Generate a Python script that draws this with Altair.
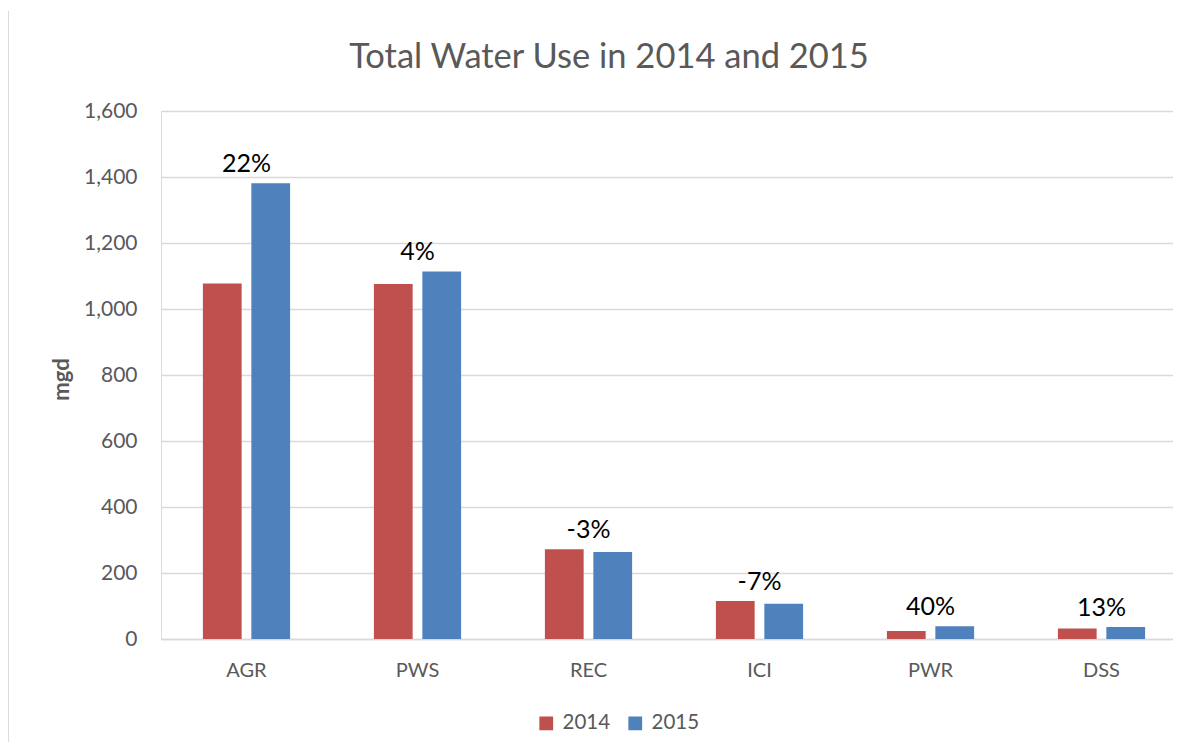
import altair as alt
import pandas as pd

categories = ["AGR", "PWS", "REC", "ICI", "PWR", "DSS"]
use_2014 = [1077, 1076, 272, 115, 24, 32]
use_2015 = [1381, 1114, 264, 107, 39, 36]
change_labels = ["22%", "4%", "-3%", "-7%", "40%", "13%"]
years = ["2014", "2015"]
colors = ["#C0504D", "#4F81BD"]
y_ticks = [0, 200, 400, 600, 800, 1000, 1200, 1400, 1600]

rows = []
for c, a, b in zip(categories, use_2014, use_2015):
    rows.append({"category": c, "year": "2014", "mgd": a})
    rows.append({"category": c, "year": "2015", "mgd": b})
bars_df = pd.DataFrame(rows)
labels_df = pd.DataFrame({
    "category": categories,
    "label": change_labels,
    "top": [max(a, b) for a, b in zip(use_2014, use_2015)],
})

FONT = "Lato"
GRAY = "#595959"
GRID = "#d9d9d9"

x_scale = alt.Scale(domain=categories, range=[0, 1026], paddingInner=0.49, paddingOuter=0.245)
y_scale = alt.Scale(domain=[0, 1600])

x_axis = alt.Axis(title=None, labelAngle=0, ticks=False, domain=True, domainColor=GRID,
                  domainWidth=1.5, labelFont=FONT, labelFontSize=20, labelColor=GRAY,
                  labelPadding=31, labelBaseline="middle", grid=False)
y_axis = alt.Axis(values=y_ticks, format=",d", labelFont=FONT, labelFontSize=21, labelColor=GRAY,
                  labelPadding=24, ticks=False, domain=False, grid=True, gridColor=GRID,
                  gridWidth=1.5, title="mgd", titleFont=FONT, titleFontSize=22,
                  titleFontWeight="bold", titleColor=GRAY, titleAngle=270, titleX=-100,
                  titleY=268, titleAlign="center", titleBaseline="middle")

bars = alt.Chart(bars_df).mark_bar().encode(
    x=alt.X("category:N", sort=categories, scale=x_scale, axis=x_axis),
    xOffset=alt.XOffset("year:N", scale=alt.Scale(domain=years, paddingInner=0.2, paddingOuter=0)),
    y=alt.Y("mgd:Q", scale=y_scale, axis=y_axis),
    color=alt.Color("year:N", scale=alt.Scale(domain=years, range=colors),
                    legend=alt.Legend(orient="none", legendX=375, legendY=602,
                                      direction="horizontal", title=None, symbolType="square",
                                      symbolSize=190, symbolStrokeWidth=0, labelFont=FONT,
                                      labelFontSize=20.5, labelColor=GRAY, columnPadding=14,
                                      labelOffset=6)),
)

texts = alt.Chart(labels_df).mark_text(font=FONT, fontSize=25, color="black",
                                       baseline="alphabetic", dy=-11).encode(
    x=alt.X("category:N", sort=categories, scale=x_scale),
    y=alt.Y("top:Q", scale=y_scale),
    text="label:N",
)

border = alt.Chart(pd.DataFrame({"a": [0]})).mark_rule(color="#d0d0d0", strokeWidth=1.5,
                                                         clip=False).encode(
    x=alt.value(-153), y=alt.value(-100), y2=alt.value(631)
)

chart = alt.layer(bars, texts, border).properties(
    width=1012,
    height=528,
    autosize=alt.AutoSizeParams(type="none"),
    padding={"left": 153, "top": 103, "right": 0, "bottom": 104},
    title=alt.TitleParams("Total Water Use in 2014 and 2015", font=FONT, fontSize=34.5,
                          color=GRAY, fontWeight="normal", anchor="middle", dx=-58, offset=-65),
).configure_view(stroke=None).configure(background="white")

chart.save("out.html", embed_options={"renderer": "svg", "actions": False})
